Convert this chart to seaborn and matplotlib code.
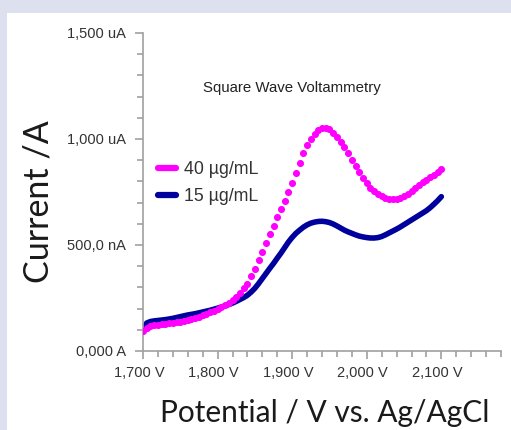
import numpy as np
import pandas as pd
import matplotlib
matplotlib.use('Agg')
import matplotlib.pyplot as plt
import matplotlib.transforms as mtransforms
from matplotlib.lines import Line2D
from matplotlib.patches import Rectangle
from matplotlib.ticker import MultipleLocator
import seaborn as sns

# potential grid (V), 5 mV steps as recorded by the instrument
potential = np.round(np.arange(1.700, 2.1001, 0.005), 3)

# current (nA) for 40 ug/mL
current_40 = [
    95, 110, 118, 122, 125, 127, 129, 131, 133, 136,
    139, 143, 147, 151, 156, 162, 168, 175, 182, 189,
    197, 208, 217, 228, 240, 256, 274, 296, 318, 352,
    388, 428, 468, 510, 550, 590, 630, 668, 708, 748,
    792, 840, 888, 934, 972, 1002, 1025, 1041, 1050, 1052,
    1045, 1030, 1010, 986, 960, 933, 903, 873, 843, 815,
    792, 771, 754, 740, 730, 723, 719, 718, 719, 723,
    731, 741, 753, 767, 781, 795, 808, 820, 832, 845,
    860,
]

# current (nA) for 15 ug/mL
current_15 = [
    100, 132, 139, 142, 144, 146, 148, 151, 154, 158,
    162, 166, 170, 173, 176, 180, 184, 188, 192, 197,
    202, 207, 213, 219, 226, 234, 243, 252, 263, 278,
    296, 318, 342, 366, 390, 413, 438, 462, 488, 514,
    536, 555, 570, 584, 595, 603, 608, 611, 612, 610,
    606, 599, 590, 580, 570, 562, 555, 548, 542, 538,
    535, 533, 533, 535, 540, 548, 557, 566, 575, 585,
    596, 607, 618, 629, 640, 651, 662, 676, 692, 709,
    728,
]

series_labels = ['40 µg/mL', '15 µg/mL']
series_colors = ['#ff00ff', '#00009c']

x_ticks = [1.7, 1.8, 1.9, 2.0, 2.1]
x_ticklabels = ['1,700 V', '1,800 V', '1,900 V', '2,000 V', '2,100 V']
y_ticks = [0, 500, 1000, 1500]
y_ticklabels = ['0,000 A', '500,0 nA', '1,000 uA', '1,500 uA']

df40 = pd.DataFrame({'potential': potential, 'current': current_40})
df15 = pd.DataFrame({'potential': potential, 'current': current_15})

sns.set_theme(style='ticks')
plt.rcParams['font.family'] = ['Liberation Sans', 'DejaVu Sans']

W, H = 511, 430
fig = plt.figure(figsize=(W / 100, H / 100), dpi=100, facecolor='#dde0ef')
# white panel, lavender strip on top and left
fig.patches.append(Rectangle((7 / W, 0), 1, (H - 13) / H, transform=fig.transFigure,
                             facecolor='white', edgecolor='none', zorder=-10))

ax = fig.add_axes([143 / W, 79 / H, 358 / W, 318 / H])
ax.set_facecolor('none')

sns.lineplot(data=df15, x='potential', y='current', color=series_colors[1],
             linewidth=4, ax=ax, zorder=2)
sns.scatterplot(data=df40, x='potential', y='current', color=series_colors[0],
                s=26, linewidth=0, ax=ax, zorder=3)

ax.set_xlim(1.7, 2.18)
ax.set_ylim(0, 1500)
sns.despine(ax=ax)
for side in ['left', 'bottom']:
    ax.spines[side].set_color('#a0a0a0')
    ax.spines[side].set_linewidth(1.2)

ax.set_xticks(x_ticks)
ax.set_xticklabels(x_ticklabels)
ax.set_yticks(y_ticks)
ax.set_yticklabels(y_ticklabels)
ax.xaxis.set_minor_locator(MultipleLocator(0.02))
ax.yaxis.set_minor_locator(MultipleLocator(100))
ax.tick_params(which='both', direction='out', color='#a0a0a0', width=1.2,
               labelsize=10.5, labelcolor='#333333')
ax.tick_params(which='major', length=5.5)
ax.tick_params(which='minor', length=4.5)
ax.tick_params(axis='y', which='major', pad=6.5)
ax.tick_params(axis='x', which='major', pad=5)
# x tick labels sit a little left of their ticks
shift = mtransforms.ScaledTranslation(-0.04, 0, fig.dpi_scale_trans)
for lab in ax.get_xticklabels():
    lab.set_transform(lab.get_transform() + shift)

ax.set_xlabel('Potential / V vs. Ag/AgCl', fontsize=21.5, family='Lato', color='#1a1a1a')
ax.xaxis.set_label_coords((325 - 143) / 358, (351 - 413) / 318)
ax.xaxis.label.set_va('center')
ax.set_ylabel('Current /A', fontsize=24.5, family='Lato', color='#1a1a1a')
ax.yaxis.set_label_coords((38 - 143) / 358, (351 - 202) / 318)
ax.yaxis.label.set_va('center')
ax.yaxis.label.set_ha('center')

ax.text((292 - 143) / 358, (351 - 88) / 318, 'Square Wave Voltammetry',
        transform=ax.transAxes, ha='center', va='center', fontsize=10.8, color='#222222')

handles = [Line2D([0], [0], color=c, lw=4.5) for c in series_colors]
ax.legend(handles, series_labels, loc='center left',
          bbox_to_anchor=(158 / W, 1 - 183 / H), bbox_transform=fig.transFigure,
          frameon=False, fontsize=12.8, handlelength=1.0, handletextpad=0.45,
          labelspacing=0.55, borderpad=0, borderaxespad=0, labelcolor='#333333')

fig.savefig('out.png', dpi=100, facecolor=fig.get_facecolor())
